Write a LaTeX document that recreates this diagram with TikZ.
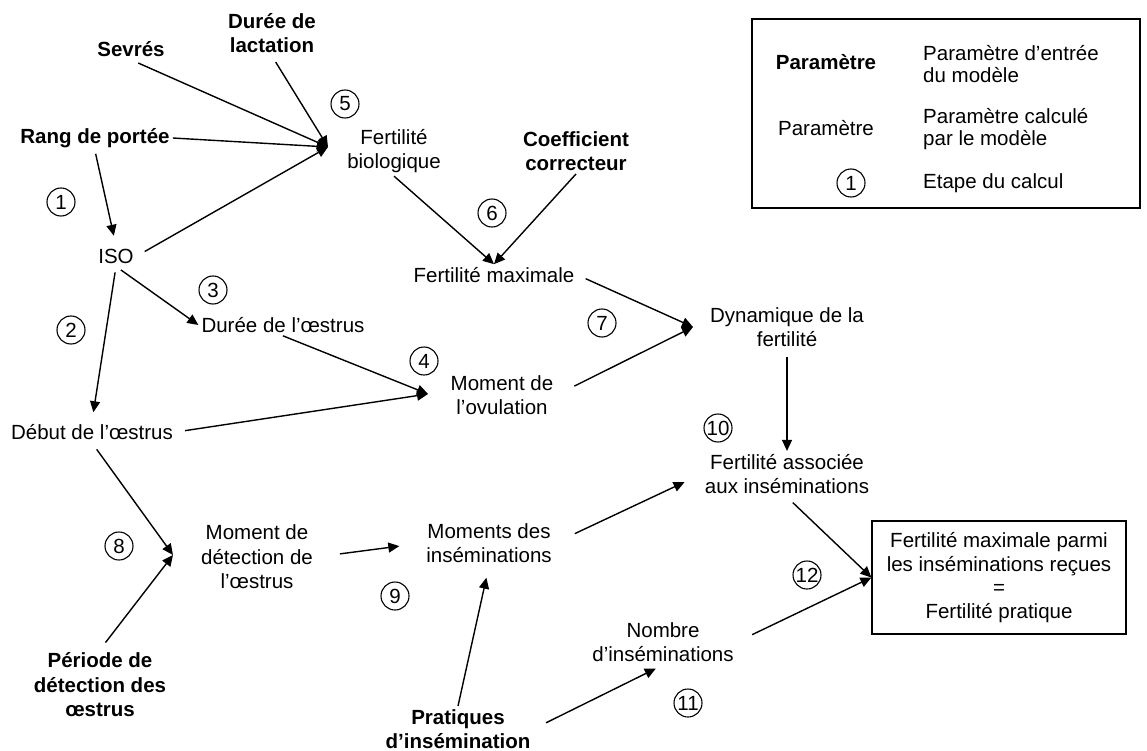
\documentclass[tikz,border=0pt]{standalone}
\usepackage{fontspec}
\setmainfont{Liberation Sans}
\usetikzlibrary{arrows.meta}
\begin{document}
\begin{tikzpicture}[x=1pt,y=-1pt,
  every node/.style={font=\fontsize{20.5}{24.5}\selectfont, align=center, inner sep=3pt},
  inp/.style={font=\fontsize{20.5}{24.5}\selectfont\bfseries},
  num/.style={draw, circle, line width=1.1pt, minimum size=28pt, inner sep=0pt},
  arr/.style={-{Triangle[length=11pt,width=10pt]}, line width=1.4pt},
  legtext/.style={anchor=west, align=left, inner sep=0pt, font=\fontsize{20.5}{22}\selectfont},
  framebox/.style={draw, line width=1.2pt, inner sep=0pt}
]
\useasboundingbox (0,0) rectangle (1147,751);

% legend
\node[framebox, minimum width=388pt, minimum height=189pt] (legend) at (946,113.5) {};
\node[inp] (lp1) at (826,62) {Paramètre};
\node[legtext] (ld1) at (923,64) {Paramètre d’entrée\\du modèle};
\node (lp2) at (826,128) {Paramètre};
\node[legtext] (ld2) at (923,129) {Paramètre calculé\\par le modèle};
\node[num] (lc) at (851,183) {1};
\node[legtext] (ld3) at (923,183) {Etape du calcul};

% input parameters
\node[inp] (lact) at (272,33) {Durée de\\lactation};
\node[inp] (sevres) at (131,49) {Sevrés};
\node[inp] (rang) at (95,138) {Rang de portée};
\node[inp] (coef) at (576,151) {Coefficient\\correcteur};
\node[inp] (periode) at (100,685) {Période de\\détection des\\œstrus};
\node[inp] (prat) at (458,729) {Pratiques\\d’insémination};

% computed parameters
\node (iso) at (116,256) {ISO};
\node (bio) at (394,151) {Fertilité\\biologique};
\node (max) at (494,275) {Fertilité maximale};
\node (dur) at (283,325) {Durée de l’œstrus};
\node (debut) at (92,432) {Début de l’œstrus};
\node (ov) at (502,395) {Moment de\\l’ovulation};
\node (dyn) at (787,327) {Dynamique de la\\fertilité};
\node (assoc) at (787,474) {Fertilité associée\\aux inséminations};
\node (det) at (257,557) {Moment de\\détection de\\l’œstrus};
\node (moments) at (489,543) {Moments des\\inséminations};
\node (nombre) at (663,642) {Nombre\\d’inséminations};
\node[framebox, minimum width=254pt, minimum height=113pt, font=\fontsize{20.5}{23.7}\selectfont] (box) at (999,577.5)
  {Fertilité maximale parmi\\les inséminations reçues\\=\\Fertilité pratique};

% step numbers
\node[num] (c1) at (61,202) {1};
\node[num] (c2) at (71,330) {2};
\node[num] (c3) at (213,290) {3};
\node[num] (c4) at (424,361) {4};
\node[num] (c5) at (345,104) {5};
\node[num] (c6) at (492,213) {6};
\node[num] (c7) at (602,323) {7};
\node[num] (c8) at (119,546) {8};
\node[num] (c9) at (395,596) {9};
\node[num] (c10) at (718,428) {10};
\node[num] (c11) at (688,703) {11};
\node[num] (c12) at (807,575) {12};

% convergence points
\coordinate (bioIn) at (328,147);
\coordinate (ovIn) at (428,394);
\coordinate (dynIn) at (693,327);
\coordinate (detIn) at (173,555);

% connectors
\draw[arr, shorten <=8pt] (sevres.south) -- (bioIn);
\draw[arr, shorten <=7pt] (lact.south) -- (bioIn);
\draw[arr] (rang.east) -- (bioIn);
\draw[arr, shorten <=9pt] (iso.east) -- (bioIn);
\draw[arr, shorten <=3pt, shorten >=10pt] (rang.south) -- (iso.north);
\draw[arr, shorten <=6pt] (iso.south) -- (dur.west);
\draw[arr, shorten <=6pt, shorten >=9pt] (iso.south) -- (debut.north);
\draw[arr] (dur.south) -- (ovIn);
\draw[arr, shorten <=9pt] (debut.east) -- (ovIn);
\draw[arr] (bio.south) -- (max.north);
\draw[arr] (coef.south) -- (max.north);
\draw[arr, shorten <=9pt] (max.east) -- (dynIn);
\draw[arr, shorten <=20pt] (ov.east) -- (dynIn);
\draw[arr, shorten <=7pt] (dyn.south) -- (assoc.north);
\draw[arr, shorten <=8pt] (debut.south) -- (detIn);
\draw[arr, shorten <=9pt] (periode.north) -- (detIn);
\draw[arr, shorten <=24pt, shorten >=24pt] (det.east) -- (moments.west);
\draw[arr, shorten <=22pt, shorten >=19pt] (moments.east) -- (assoc.west);
\draw[arr, shorten >=12pt] (prat.north) -- (moments.south);
\draw[arr, shorten <=14pt, shorten >=8pt] (prat.east) -- (nombre.south);
\draw[arr, shorten <=8pt] (assoc.south) -- (box.west);
\draw[arr, shorten <=17pt] (nombre.east) -- (box.west);
\end{tikzpicture}
\end{document}
